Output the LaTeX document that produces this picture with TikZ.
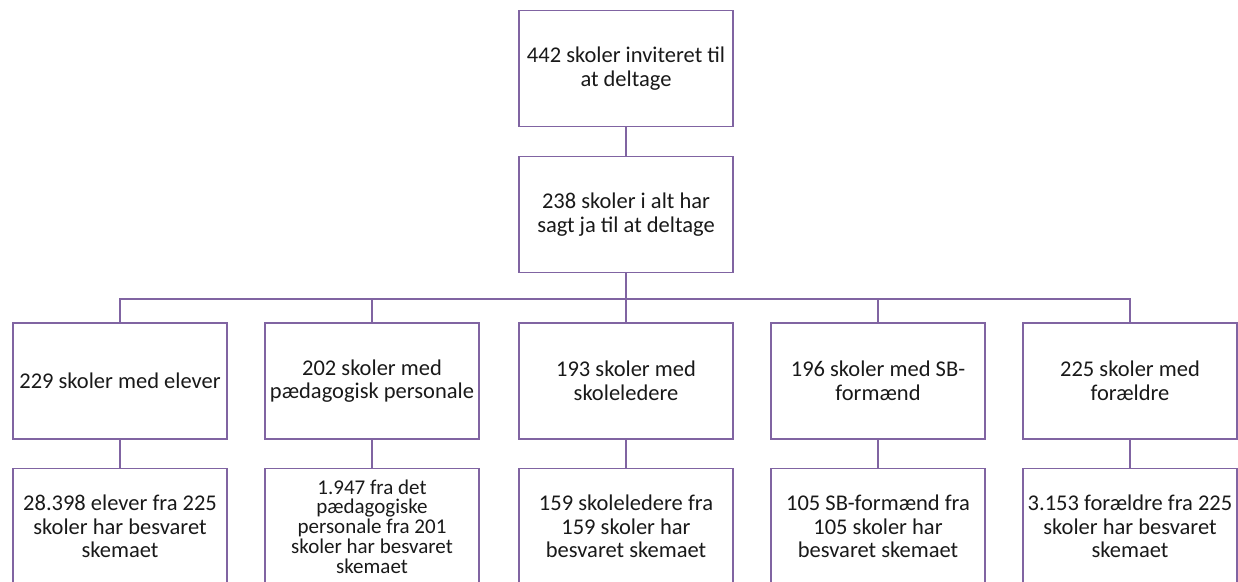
\documentclass[tikz,border=0pt]{standalone}
\usepackage{fontspec}
\setmainfont{Carlito}
\definecolor{lila}{RGB}{128,100,162}
\begin{document}
\begin{tikzpicture}[x=1pt,y=-1pt,
  box/.style={draw=lila,line width=1.5pt,minimum width=214pt,minimum height=116pt,
    inner sep=0pt,align=center,font=\fontsize{22.5}{23.5}\selectfont,text=black!90},
  tight/.style={font=\fontsize{21}{19.8}\selectfont},
  conn/.style={draw=lila,line width=1.5pt}]
\useasboundingbox (0,0) rectangle (1238,581);
\node[box] (top) at (626,68.5) {442 skoler inviteret til\\at deltage};
\node[box] (mid) at (626,214.5) {238 skoler i alt har\\sagt ja til at deltage};
\node[box] (a1) at (120,381) {229 skoler med elever};
\node[box] (a2) at (372,381) {202 skoler med\\pædagogisk personale};
\node[box] (a3) at (626,381) {193 skoler med\\skoleledere};
\node[box] (a4) at (878,381) {196 skoler med SB-\\formænd};
\node[box] (a5) at (1130,381) {225 skoler med\\forældre};
\node[box] (b1) at (120,526.5) {28.398 elever fra 225\\skoler har besvaret\\skemaet};
\node[box,tight] (b2) at (372,526.5) {1.947 fra det\\pædagogiske\\personale fra 201\\skoler har besvaret\\skemaet};
\node[box] (b3) at (626,526.5) {159 skoleledere fra\\159 skoler har\\besvaret skemaet};
\node[box] (b4) at (878,526.5) {105 SB-formænd fra\\105 skoler har\\besvaret skemaet};
\node[box] (b5) at (1130,526.5) {3.153 forældre fra 225\\skoler har besvaret\\skemaet};
\coordinate (bus) at (626,299);
\draw[conn] (top.south) -- (mid.north);
\draw[conn] (mid.south) -- (bus);
\draw[conn] (a1.north) -- (a1.north |- bus) -- (a5.north |- bus) -- (a5.north);
\draw[conn] (a2.north) -- (a2.north |- bus);
\draw[conn] (a3.north) -- (a3.north |- bus);
\draw[conn] (a4.north) -- (a4.north |- bus);
\foreach \i in {1,...,5}{\draw[conn] (a\i.south) -- (b\i.north);}
\end{tikzpicture}
\end{document}
